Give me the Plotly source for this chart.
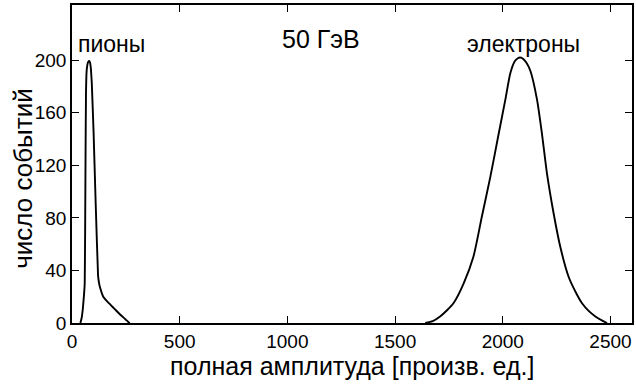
import plotly.graph_objects as go

# pion peak (amplitude, events)
pion_x = [39, 45, 51, 56, 59, 61, 63, 65, 68, 72, 76, 80, 84, 88, 92, 100, 110, 121, 126, 132, 145, 160, 175, 190, 205, 220, 237, 250, 260, 268]
pion_y = [0, 4, 12, 22, 30, 70, 130, 175, 192, 197, 199, 199.5, 198, 193, 182, 146, 91, 36, 30, 26, 20, 17, 14.5, 12, 9.5, 7, 4.5, 2.5, 1, 0]

# electron peak (amplitude, events)
el_x = [1640, 1675, 1709, 1740, 1771, 1818, 1864, 1903, 1942, 1981, 2012, 2035, 2055, 2070, 2081, 2095, 2110, 2128, 2159, 2182, 2205, 2236, 2267, 2306, 2340, 2368, 2400, 2430, 2460, 2484]
el_y = [0, 1.5, 5, 9.5, 15, 30, 50.6, 81, 111, 144, 170, 190, 199, 201.5, 202, 201, 198, 192, 170, 144, 114, 83.5, 58, 35, 23, 15, 9, 5, 2, 0]

x_ticks = [0, 500, 1000, 1500, 2000, 2500]
y_ticks = [0, 40, 80, 120, 160, 200]

x_title = "полная амплитуда [произв. ед.]"
y_title = "число событий"
labels = ["пионы", "50 ГэВ", "электроны"]

FONT = "Liberation Sans, Arial, sans-serif"

fig = go.Figure()
fig.add_trace(go.Scatter(x=pion_x, y=pion_y, mode="lines",
                         line=dict(color="black", width=1.9, shape="spline", smoothing=0.3),
                         showlegend=False))
fig.add_trace(go.Scatter(x=el_x, y=el_y, mode="lines",
                         line=dict(color="black", width=1.9, shape="spline", smoothing=0.6),
                         showlegend=False))

axis_common = dict(showline=True, linecolor="black", linewidth=1.5, mirror="ticks",
                   ticks="inside", ticklen=7, tickwidth=1, tickcolor="black",
                   showgrid=False, zeroline=False, automargin=False,
                   tickfont=dict(family=FONT, size=19, color="black"))

fig.update_xaxes(range=[0, 2600], tickvals=x_ticks, ticktext=[str(v) for v in x_ticks],
                 **axis_common)
fig.update_yaxes(range=[0, 242], tickvals=y_ticks, ticktext=[str(v) for v in y_ticks],
                 **axis_common)

# axis titles
fig.add_annotation(x=0.5, y=-0.135, xref="paper", yref="paper", text=x_title,
                   showarrow=False, xanchor="center", yanchor="middle",
                   font=dict(family=FONT, size=25, color="black"))
fig.add_annotation(x=-0.089, y=0.454, xref="paper", yref="paper", text=y_title,
                   showarrow=False, xanchor="center", yanchor="middle", textangle=-90,
                   font=dict(family=FONT, size=26, color="black"))

# in-plot labels
fig.add_annotation(x=20, y=212, xref="x", yref="y", text=labels[0], showarrow=False,
                   xanchor="left", yanchor="middle", font=dict(family=FONT, size=23, color="black"))
fig.add_annotation(x=1156, y=216, xref="x", yref="y", text=labels[1], showarrow=False,
                   xanchor="center", yanchor="middle", font=dict(family=FONT, size=25, color="black"))
fig.add_annotation(x=2096, y=212, xref="x", yref="y", text=labels[2], showarrow=False,
                   xanchor="center", yanchor="middle", font=dict(family=FONT, size=23, color="black"))

fig.update_layout(width=636, height=385, margin=dict(l=72, r=4, t=5, b=62),
                  plot_bgcolor="white", paper_bgcolor="white",
                  font=dict(family=FONT, color="black"))

fig.write_html("out.html", config={"displayModeBar": False},
               post_script="document.body.style.margin='0';")
